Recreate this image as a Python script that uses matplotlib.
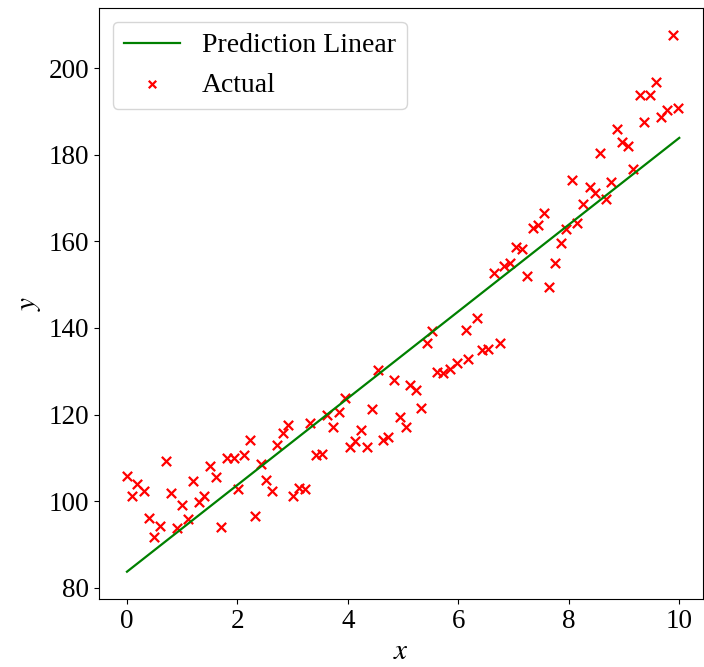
import numpy as np
import matplotlib as mpl
import matplotlib.pyplot as plt

# Values
x_actual = [0.00, 0.085, 0.19, 0.30, 0.39, 0.49, 0.60, 0.70, 0.80, 0.90,
            1.00, 1.10, 1.20, 1.31, 1.40, 1.50, 1.61, 1.71, 1.82, 1.93,
            2.01, 2.11, 2.22, 2.32, 2.42, 2.52, 2.62, 2.71, 2.82, 2.92,
            3.01, 3.12, 3.22, 3.32, 3.42, 3.53, 3.62, 3.73, 3.83, 3.94,
            4.03, 4.13, 4.23, 4.34, 4.43, 4.55, 4.63, 4.73, 4.84, 4.95,
            5.05, 5.13, 5.24, 5.32, 5.43, 5.52, 5.61, 5.73, 5.84, 5.98,
            6.18, 6.14, 6.34, 6.43, 6.53, 6.64, 6.75, 6.82, 6.94, 7.05,
            7.15, 7.24, 7.35, 7.45, 7.55, 7.65, 7.75, 7.86, 7.95, 8.05,
            8.15, 8.26, 8.38, 8.47, 8.56, 8.67, 8.76, 8.87, 8.96, 9.07,
            9.17, 9.28, 9.37, 9.47, 9.58, 9.67, 9.78, 9.88, 9.97]
y_actual = [105.7, 101.1, 104.0, 102.4, 96.0, 91.8, 94.3, 109.3, 101.9, 93.9,
            99.0, 95.9, 104.7, 99.9, 101.1, 108.0, 105.5, 94.1, 109.9, 109.9,
            102.7, 110.7, 114.2, 96.6, 108.6, 104.9, 102.4, 113.0, 115.8, 117.6,
            101.1, 103.0, 102.8, 118.0, 110.7, 110.9, 119.9, 117.2, 120.7, 123.8,
            112.6, 113.8, 116.5, 112.6, 121.2, 130.3, 114.2, 114.8, 128.0, 119.4,
            117.1, 126.8, 125.7, 121.4, 136.6, 139.2, 129.9, 129.5, 130.5, 132.0,
            132.9, 139.5, 142.2, 134.9, 135.1, 152.8, 136.6, 154.2, 155.1, 158.8,
            158.2, 152.0, 163.2, 163.8, 166.6, 149.4, 155.0, 159.7, 162.8, 174.2,
            164.3, 168.6, 172.5, 171.1, 180.3, 169.7, 173.6, 185.9, 183.0, 182.0,
            176.6, 193.8, 187.6, 193.8, 196.8, 188.8, 190.3, 207.6, 190.9]

# fitted line end points
x_pred = [0.0, 10.0]
y_pred = [83.7, 183.9]

mpl.rcParams['font.family'] = 'serif'
mpl.rcParams['font.serif'] = ['Liberation Serif', 'DejaVu Serif']
mpl.rcParams['mathtext.fontset'] = 'stix'

fig = plt.figure(figsize=(7.04, 6.67), dpi=100)
ax = fig.add_axes([0.1406, 0.102, 0.858, 0.886])

ax.plot(x_pred, y_pred, color='green', linewidth=1.6, label='Prediction Linear')
ax.scatter(x_actual, y_actual, marker='x', color='red', s=45, linewidths=1.6,
           label='Actual')

ax.set_xlim(-0.507, 10.43)
ax.set_ylim(77.4, 213.9)
ax.set_xlabel('$x$', fontsize=21)
ax.set_ylabel('$y$', fontsize=21)
ax.tick_params(labelsize=19.5)
ax.set_xticks([0, 2, 4, 6, 8, 10])
ax.set_yticks([80, 100, 120, 140, 160, 180, 200])

ax.legend(loc='upper left', fontsize=20, markerscale=0.8)

plt.savefig('out.png', dpi=100)
